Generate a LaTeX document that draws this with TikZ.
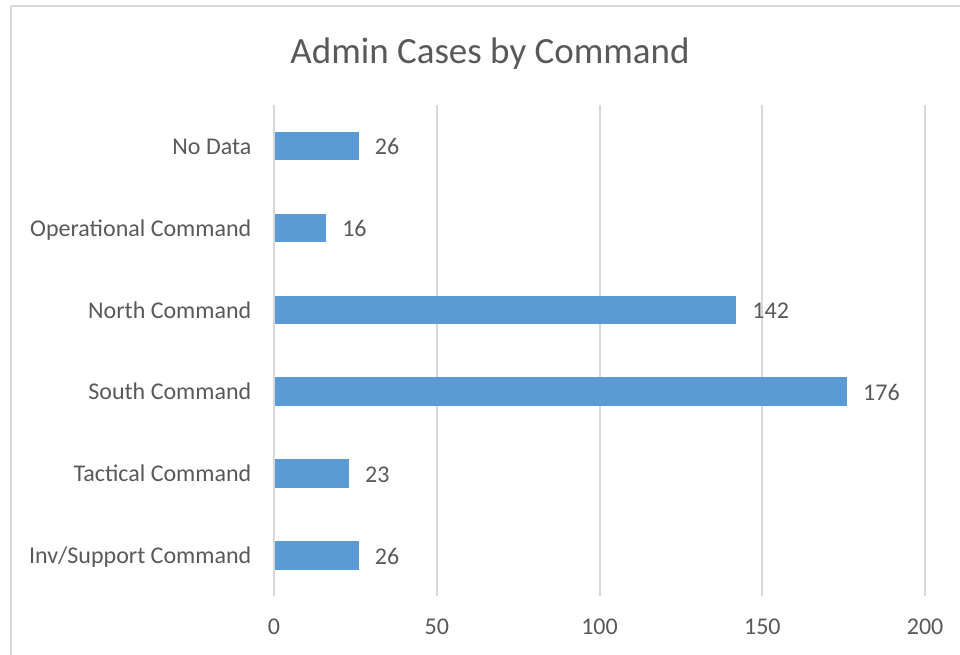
\documentclass[tikz,border=0pt]{standalone}
\usepackage{fontspec}
\setmainfont{Carlito}
\definecolor{txt}{HTML}{595959}
\definecolor{grid}{HTML}{D9D9D9}
\definecolor{bar}{HTML}{5B9BD5}
\begin{document}
\begin{tikzpicture}[x=1pt,y=-1pt,
  gridline/.style={draw=grid,line width=2pt},
  barbox/.style={fill=bar,draw=none},
  catlabel/.style={anchor=base east,text=txt,font=\fontsize{24}{28}\selectfont,inner sep=0pt},
  vallabel/.style={anchor=base west,text=txt,font=\fontsize{24}{28}\selectfont,inner sep=0pt},
  ticklabel/.style={anchor=base,text=txt,font=\fontsize{24}{28}\selectfont,inner sep=0pt},
  titlestyle/.style={anchor=base,text=txt,font=\fontsize{37}{44}\selectfont,inner sep=0pt}]
\useasboundingbox[fill=white] (0,0) rectangle (960,654);
% chart border
\draw[grid,line width=2pt] (11,660) -- (11,6) -- (965,6);
% title
\node[titlestyle] (title) at (490,63) {Admin Cases by Command};
% gridlines
\foreach \v/\n in {0/g0,50/g50,100/g100,150/g150,200/g200}{
  \coordinate (\n t) at ({274+\v*3.2555},105);
  \coordinate (\n b) at ({274+\v*3.2555},596);
  \draw[gridline] (\n t) -- (\n b);
  \node[ticklabel] (\n lab) at ({274+\v*3.2555},634.5) {\v};
}
% bars
\foreach \y/\val/\name/\lab in {
  146/26/nodata/No Data,
  228/16/oper/Operational Command,
  310/142/north/North Command,
  391.5/176/south/South Command,
  473.5/23/tact/Tactical Command,
  555.5/26/inv/Inv{/}Support Command}{
  \fill[barbox] (275,\y-14.3) rectangle ({274+\val*3.2555},\y+14.3);
  \coordinate (\name end) at ({274+\val*3.2555},\y);
  \node[catlabel] (\name cat) at (251.5,\y+8) {\lab};
  \node[vallabel] (\name val) at ([xshift=16pt,yshift=-8.7pt]\name end) {\val};
}
\end{tikzpicture}
\end{document}
